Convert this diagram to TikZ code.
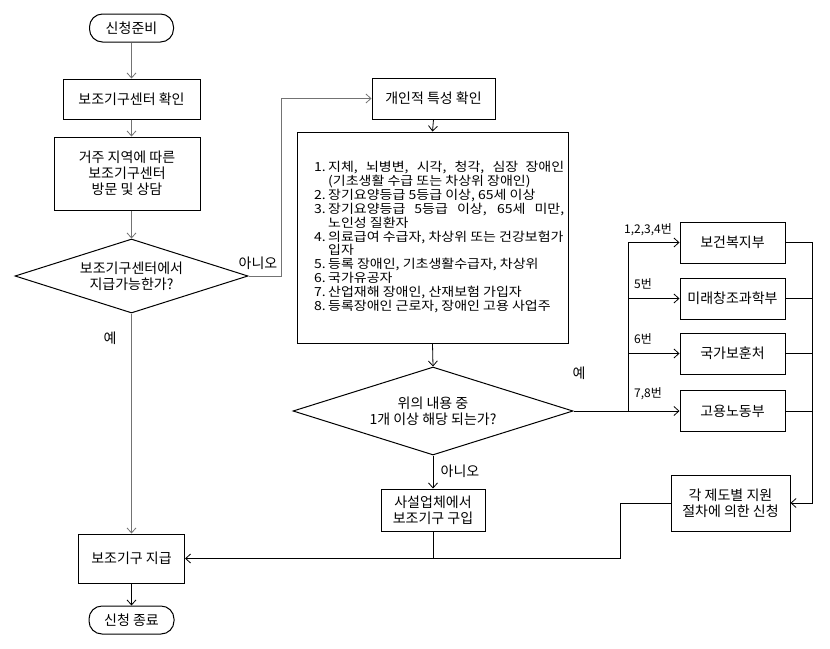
\documentclass[tikz,border=0pt]{standalone}
\usepackage{fontspec}
\setmainfont{Noto Sans CJK KR}
\newfontfamily\listfont[FakeStretch=1.12]{Noto Sans CJK KR}
\usetikzlibrary{shapes.geometric,arrows.meta}
\AtBeginDocument{\lineskiplimit=-20pt\relax\lineskip=0pt\relax}
\begin{document}
\begin{tikzpicture}[x=1pt,y=-1pt,
  font=\fontsize{14}{16}\selectfont,
  box/.style={draw=black, line width=1pt, rectangle, inner sep=2pt, align=center},
  term/.style={box, rounded corners=13pt},
  dia/.style={draw=black, line width=1pt, diamond, inner sep=0pt, align=center},
  con/.style={line width=0.8pt, draw=black},
  gcon/.style={line width=0.8pt, draw=black!55},
  arr/.style={-{Straight Barb[length=5pt,width=9pt]}},
  lbl/.style={inner sep=0pt},
  nlbl/.style={inner sep=0pt, font=\fontsize{12}{14}\selectfont}
]
\useasboundingbox (0,0) rectangle (830,648);

% left column
\node[term, minimum width=84, minimum height=28] (start) at (131.5,28) {신청준비};
\node[box, minimum width=137, minimum height=40] (b1) at (131.5,99) {보조기구센터 확인};
\node[box, minimum width=146, minimum height=73] (b2) at (127,173.5) {거주 지역에 따른\\보조기구센터\\방문 및 상담};
\node[dia, aspect=3.15, minimum width=233, minimum height=74] (d1) at (131.5,276) {보조기구센터에서\\지급가능한가?};
\node[box, minimum width=106, minimum height=49] (give) at (131.5,558.5) {보조기구 지급};
\node[term, minimum width=85, minimum height=28] (end) at (131.5,620) {신청 종료};

% middle column
\node[box, minimum width=123, minimum height=41] (p1) at (433.5,98.5) {개인적 특성 확인};
\node[box, minimum width=271, minimum height=211] (list) at (432.5,237.5) {};
\node[inner sep=0pt, anchor=north west, align=left,
      font=\listfont\fontsize{12.5}{13.9}\selectfont] (listtxt) at (314,161) {%
\makebox[14pt][l]{1.}\makebox[236pt][s]{지체, 뇌병변, 시각, 청각, 심장 장애인}\\
\hspace*{14pt}(기초생활 수급 또는 차상위 장애인)\\
\makebox[14pt][l]{2.}장기요양등급 5등급 이상, 65세 이상\\
\makebox[14pt][l]{3.}\makebox[236pt][s]{장기요양등급 5등급 이상, 65세 미만,}\\
\hspace*{14pt}노인성 질환자\\
\makebox[14pt][l]{4.}\makebox[236pt][l]{의료급여 수급자, 차상위 또는 건강보험가}\\
\hspace*{14pt}입자\\
\makebox[14pt][l]{5.}등록 장애인, 기초생활수급자, 차상위\\
\makebox[14pt][l]{6.}국가유공자\\
\makebox[14pt][l]{7.}산업재해 장애인, 산재보험 가입자\\
\makebox[14pt][l]{8.}등록장애인 근로자, 장애인 고용 사업주};
\node[dia, aspect=3.18, minimum width=280, minimum height=88] (d2) at (433,411) {위의 내용 중\\1개 이상 해당 되는가?};
\node[box, minimum width=104, minimum height=42] (buy) at (433,510) {사설업체에서\\보조기구 구입};

% right column
\node[box, minimum width=105, minimum height=41] (m1) at (732.5,242.5) {보건복지부};
\node[box, minimum width=105, minimum height=41] (m2) at (732.5,298.5) {미래창조과학부};
\node[box, minimum width=105, minimum height=41] (m3) at (732.5,353.5) {국가보훈처};
\node[box, minimum width=105, minimum height=41] (m4) at (732.5,411) {고용노동부};
\node[box, minimum width=119, minimum height=56] (apply) at (730.5,503) {각 제도별 지원\\절차에 의한 신청};

\coordinate (tr1) at (628,242.5);
\coordinate (rt) at (812,242.5);

% connectors left column
\draw[gcon,arr] (start) -- (b1);
\draw[gcon,arr] (b1.south) -- (b1.south |- b2.north);
\draw[gcon,arr] (b1.south |- b2.south) -- (d1.north);
\draw[gcon,arr] (d1.south) -- (give.north);
\draw[con,arr] (give.south) -- (end.north);
\draw[gcon,arr] (d1.east) -- ++(33,0) |- (p1.west);
\node[lbl] (no1) at (258,263) {아니오};
\node[lbl] (yes1) at (110,338) {예};

% middle
\draw[con,arr] (p1.south) -- (list.north);
\draw[con,arr] (list.south) -- (d2.north);
\draw[con,arr] (d2.south) -- (buy.north);
\node[lbl] (no2) at (460,471) {아니오};
\node[lbl] (yes2) at (579,373) {예};
\draw[con] (d2.east) -- (d2.east -| tr1);
\draw[con] (tr1) -- (tr1 |- d2.east);
\draw[con,arr] (tr1) -- (m1.west);
\draw[con,arr] (m2.west -| tr1) -- (m2.west);
\draw[con,arr] (m3.west -| tr1) -- (m3.west);
\draw[con,arr] (m4.west -| tr1) -- (m4.west);
\node[nlbl] (l1) at (648,230) {1,2,3,4번};
\node[nlbl] (l2) at (643,284) {5번};
\node[nlbl] (l3) at (643,339) {6번};
\node[nlbl] (l4) at (648,394) {7,8번};

% right
\draw[con,arr] (m1.east) -- (rt) |- (apply.east);
\draw[con] (m2.east) -- (m2.east -| rt);
\draw[con] (m3.east) -- (m3.east -| rt);
\draw[con] (m4.east) -- (m4.east -| rt);
\draw[con,arr] (apply.west) -- ++(-50,0) |- (give.east);
\draw[con] (buy.south) -- (buy.south |- give.east);
\end{tikzpicture}
\end{document}
